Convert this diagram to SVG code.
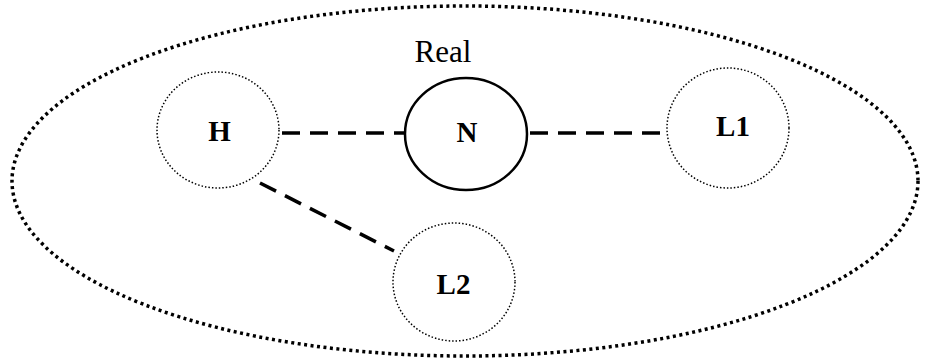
<svg xmlns="http://www.w3.org/2000/svg" width="927" height="364" viewBox="0 0 927 364">
<style>
.sub{fill:none;stroke:#000;stroke-width:1.5;stroke-dasharray:1.5 2}
.lbl{font-family:"Liberation Serif","Times New Roman",serif;font-weight:bold;font-size:29px;text-anchor:middle}
.cap{font-family:"Liberation Serif","Times New Roman",serif;font-size:31px;text-anchor:middle}
.dash{stroke:#000;stroke-width:3.5;stroke-dasharray:18 10;fill:none}
</style>
<rect width="927" height="364" fill="#fff"/>
<ellipse id="outer" cx="465" cy="181" rx="453" ry="175" fill="none" stroke="#000" stroke-width="3.5" stroke-dasharray="3 3.5"/>
<g id="connectors">
<line class="dash" x1="282" y1="133" x2="405" y2="133"/>
<line class="dash" x1="530" y1="133" x2="666" y2="133"/>
<line class="dash" x1="260" y1="183" x2="394" y2="251"/>
</g>
<g id="H"><ellipse class="sub" cx="218" cy="130" rx="61" ry="58"/><text class="lbl" x="219.5" y="141">H</text></g>
<g id="N"><ellipse cx="466" cy="134" rx="61" ry="56" fill="none" stroke="#000" stroke-width="2.5"/><text class="lbl" x="467" y="142">N</text>
<text class="cap" x="443" y="62">Real</text></g>
<g id="L1"><ellipse class="sub" cx="728" cy="128" rx="61" ry="60"/><text class="lbl" x="733" y="136">L1</text></g>
<g id="L2"><ellipse class="sub" cx="454" cy="282" rx="61" ry="59"/><text class="lbl" x="453.5" y="294">L2</text></g>
</svg>
